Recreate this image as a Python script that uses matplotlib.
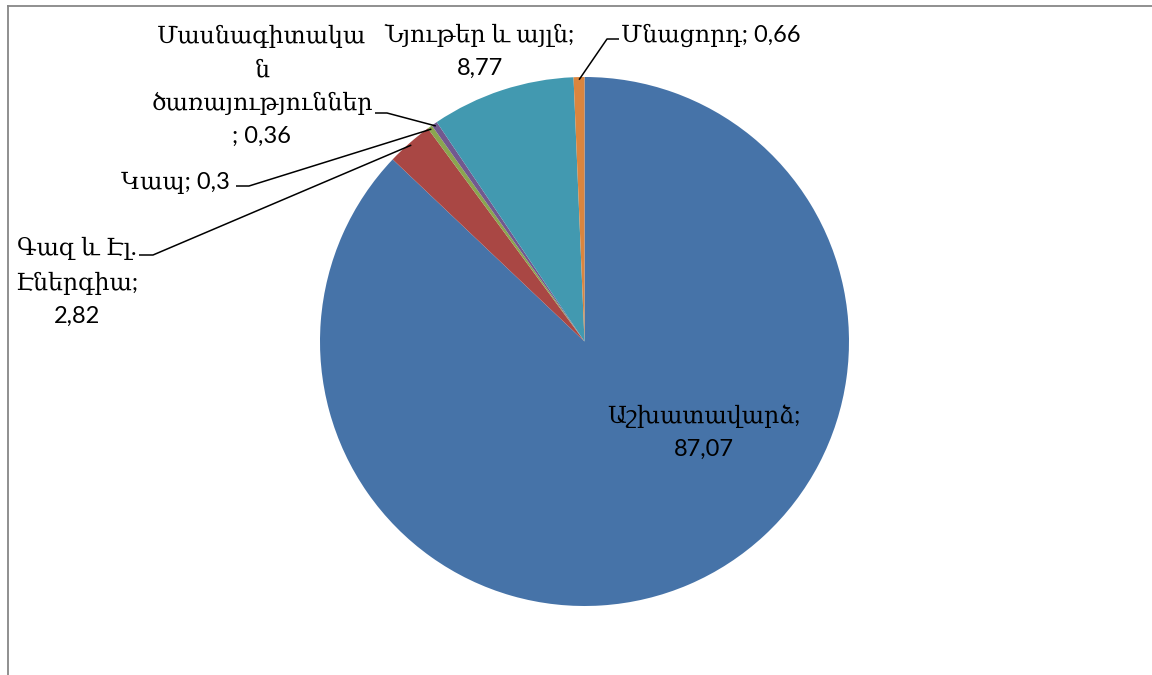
import matplotlib
matplotlib.use("Agg")
import matplotlib.pyplot as plt
import numpy as np
from matplotlib.lines import Line2D

plt.rcParams['font.family'] = ['Lato', 'DejaVu Serif', 'DejaVu Sans']

categories = ["Աշխատավարձ", "Գազ և Էլ. Էներգիա", "Կապ",
              "Մասնագիտական ծառայություններ", "Նյութեր և այլն", "Մնացորդ"]
values = [87.07, 2.82, 0.3, 0.36, 8.77, 0.66]
value_labels = ["87,07", "2,82", "0,3", "0,36", "8,77", "0,66"]
colors = ["#4673A8", "#A94744", "#8AA64F", "#72598F", "#4299B0", "#DB853E"]

W, H = 1152, 675
DPI = 100
fig = plt.figure(figsize=(W / DPI, H / DPI), dpi=DPI)

cx, cy, R = 584.5, 341.5, 264.5
ax = fig.add_axes([(cx - R) / W, (H - cy - R) / H, 2 * R / W, 2 * R / H])
ax.set_xlim(-1, 1)
ax.set_ylim(-1, 1)
ax.set_aspect('equal')
ax.axis('off')

wedges, _ = ax.pie(values, colors=colors, startangle=90, counterclock=False,
                   radius=1, wedgeprops=dict(linewidth=0))
ax.set_xlim(-1, 1)
ax.set_ylim(-1, 1)


def px(x, y):
    return (x - cx) / R, (cy - y) / R


def mid_point(i, r=1.0):
    w = wedges[i]
    a = np.deg2rad((w.theta1 + w.theta2) / 2)
    return r * np.cos(a), r * np.sin(a)


fs = 17
ls = 1.64
txt_kw = dict(fontsize=fs, color='#000000', clip_on=False)

# Inside label
ax.text(*px(704, 432), categories[0] + ";\n" + value_labels[0],
        ha='center', va='center', linespacing=ls, **txt_kw)

# Gas
ax.text(*px(77, 282), "Գազ և Էլ.\nԷներգիա;\n" + value_labels[1],
        ha='center', va='center', linespacing=ls, **txt_kw)
# Kap
ax.text(*px(175, 183), categories[2] + "; " + value_labels[2],
        ha='center', va='center', **txt_kw)
# Masnagitakan
ax.text(*px(262, 86), "Մասնագիտակա\nն\nծառայություններ\n; " + value_labels[3],
        ha='center', va='center', linespacing=ls, **txt_kw)
# Nyuter
ax.text(*px(480, 51), categories[4] + ";\n" + value_labels[4],
        ha='center', va='center', linespacing=ls, **txt_kw)
# Mnacord
ax.text(*px(621, 35), categories[5] + "; " + value_labels[5],
        ha='left', va='center', **txt_kw)

# leader lines
leaders = [
    (1, [(139, 255), (153, 255)]),
    (2, [(236, 186), (249, 186)]),
    (3, [(375, 113), (387, 113)]),
    (5, [(619, 39), (607, 39)]),
]
for idx, pts in leaders:
    p = [px(*q) for q in pts]
    m = mid_point(idx, 0.99)
    xs = [p[0][0], p[1][0], m[0]]
    ys = [p[0][1], p[1][1], m[1]]
    ax.plot(xs, ys, color='black', lw=1.1, clip_on=False, solid_capstyle='butt')

# Chart border (gray, partially visible)
bc = '#878787'
fig.add_artist(Line2D([8 / W, 1.01], [1 - 6 / H, 1 - 6 / H], color=bc, lw=1.3,
                      transform=fig.transFigure))
fig.add_artist(Line2D([8 / W, 8 / W], [1 - 6 / H, -0.01], color=bc, lw=1.3,
                      transform=fig.transFigure))

fig.savefig("out.png", dpi=DPI, facecolor='white')
